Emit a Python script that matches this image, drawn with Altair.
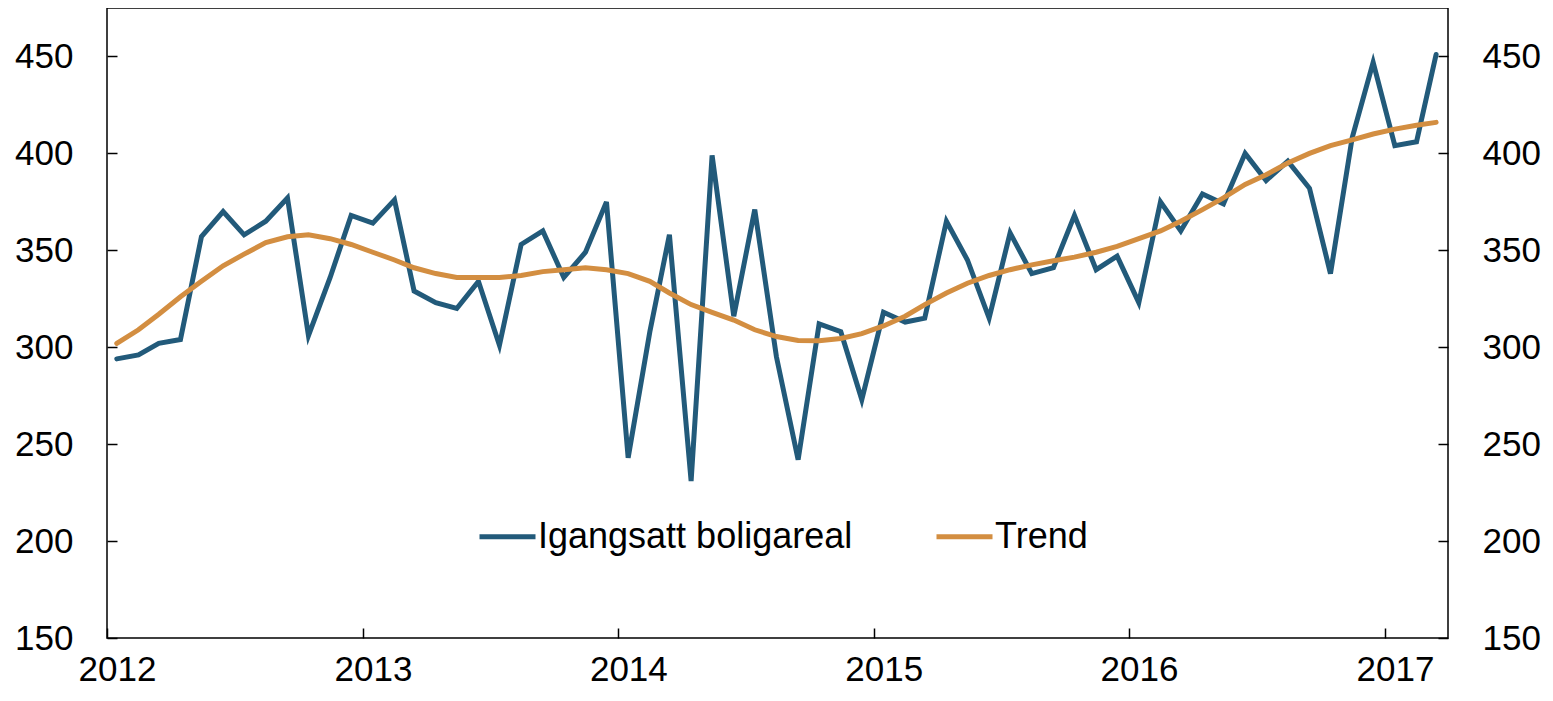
import altair as alt
import pandas as pd

# ---- data ----
series_names = ["Igangsatt boligareal", "Trend"]
igangsatt = [294, 296, 302, 304, 357, 370, 358, 365, 377, 306, 336, 368,
             364, 376, 329, 323, 320, 334, 301, 353, 360, 336, 349, 375,
             243, 308, 358, 231, 399, 316, 371, 295, 242, 312, 308, 273,
             318, 313, 315, 365, 345, 315, 359, 338, 341, 368, 340, 347,
             323, 375, 360, 379, 374, 400, 386, 396, 382, 338, 408, 447,
             404, 406, 451]
trend = [302, 309, 317, 326, 334, 342, 348, 354, 357, 358, 356, 353,
         349, 345, 341, 338, 336, 336, 336, 337, 339, 340, 341, 340,
         338, 334, 328, 322, 318, 314, 309, 305.5, 303.5, 303.3, 304.5, 307,
         311, 316, 322, 328, 333, 337, 340, 342.5, 344.6, 346.5, 349, 352,
         356, 360, 365, 371, 377, 384, 389, 395, 400, 404, 407, 410,
         412.5, 414.5, 416]
y_ticks = [150, 200, 250, 300, 350, 400, 450]
x_start = "2012-01-01"

months = pd.date_range(x_start, periods=len(igangsatt), freq="MS") + pd.Timedelta(days=14)
df = pd.DataFrame({
    "date": list(months) * 2,
    "value": igangsatt + trend,
    "series": [series_names[0]] * len(igangsatt) + [series_names[1]] * len(trend),
})

BLUE = "#225A7A"
ORANGE = "#D38E41"
FONT = "Liberation Sans"
W, H = 1341, 630

xscale = alt.Scale(domain=[alt.DateTime(year=2012, month=1, date=1),
                           alt.DateTime(year=2017, month=4, date=1)], nice=False)
yscale = alt.Scale(domain=[150, 475], nice=False, zero=False)

tick_only = dict(labels=False, domain=False, grid=False, ticks=True, tickSize=10,
                 tickWidth=1.5, tickColor="black", title=None)
year_ticks = {"interval": "year", "step": 1}

base = alt.Chart(df)

lines = base.mark_line(strokeWidth=5, strokeCap="round").encode(
    x=alt.X("date:T", scale=xscale,
            axis=alt.Axis(orient="bottom", format="%Y", tickCount=year_ticks, ticks=False,
                          labelFlush=False, labelOffset=10, labelPadding=14,
                          labelFontSize=35, labelFont=FONT,
                          labelColor="black", title=None, domain=False, grid=False)),
    y=alt.Y("value:Q", scale=yscale,
            axis=alt.Axis(orient="left", values=y_ticks, ticks=False, labelPadding=34,
                          labelFontSize=35, labelFont=FONT, labelColor="black",
                          title=None, domain=False, grid=False)),
    color=alt.Color("series:N",
                    scale=alt.Scale(domain=series_names, range=[BLUE, ORANGE]),
                    legend=alt.Legend(orient="none", legendX=370, legendY=498,
                                      direction="horizontal", title=None,
                                      symbolType="stroke", symbolSize=3136,
                                      symbolStrokeWidth=5, labelFontSize=36,
                                      labelFont=FONT, labelColor="black",
                                      labelLimit=600, labelOffset=0,
                                      columnPadding=73, padding=0)),
)

# hidden layers carrying the extra axes (inward ticks, right labels)
l2 = base.mark_point(opacity=0).encode(
    x=alt.X("date:T", scale=xscale,
            axis=alt.Axis(orient="top", offset=-H, tickCount=year_ticks, **tick_only)),
    y=alt.Y("value:Q", scale=yscale,
            axis=alt.Axis(orient="right", values=y_ticks, ticks=False, labelPadding=34,
                          labelFontSize=35, labelFont=FONT, labelColor="black",
                          title=None, domain=False, grid=False)),
)
l3 = base.mark_point(opacity=0).encode(
    x=alt.X("date:T", scale=xscale, axis=None),
    y=alt.Y("value:Q", scale=yscale,
            axis=alt.Axis(orient="right", offset=-W, values=y_ticks, **tick_only)),
)
l4 = base.mark_point(opacity=0).encode(
    x=alt.X("date:T", scale=xscale, axis=None),
    y=alt.Y("value:Q", scale=yscale,
            axis=alt.Axis(orient="left", offset=-W, values=y_ticks, **tick_only)),
)

chart = alt.layer(lines, l2, l3, l4).resolve_axis(
    x="independent", y="independent"
).properties(
    width=W, height=H,
    autosize=alt.AutoSizeParams(type="none"),
    padding={"left": 99, "top": 0, "right": 95, "bottom": 55},
).configure_view(stroke="black", strokeWidth=1.5)

chart.save("out.html", embed_options={"renderer": "svg", "actions": False})
